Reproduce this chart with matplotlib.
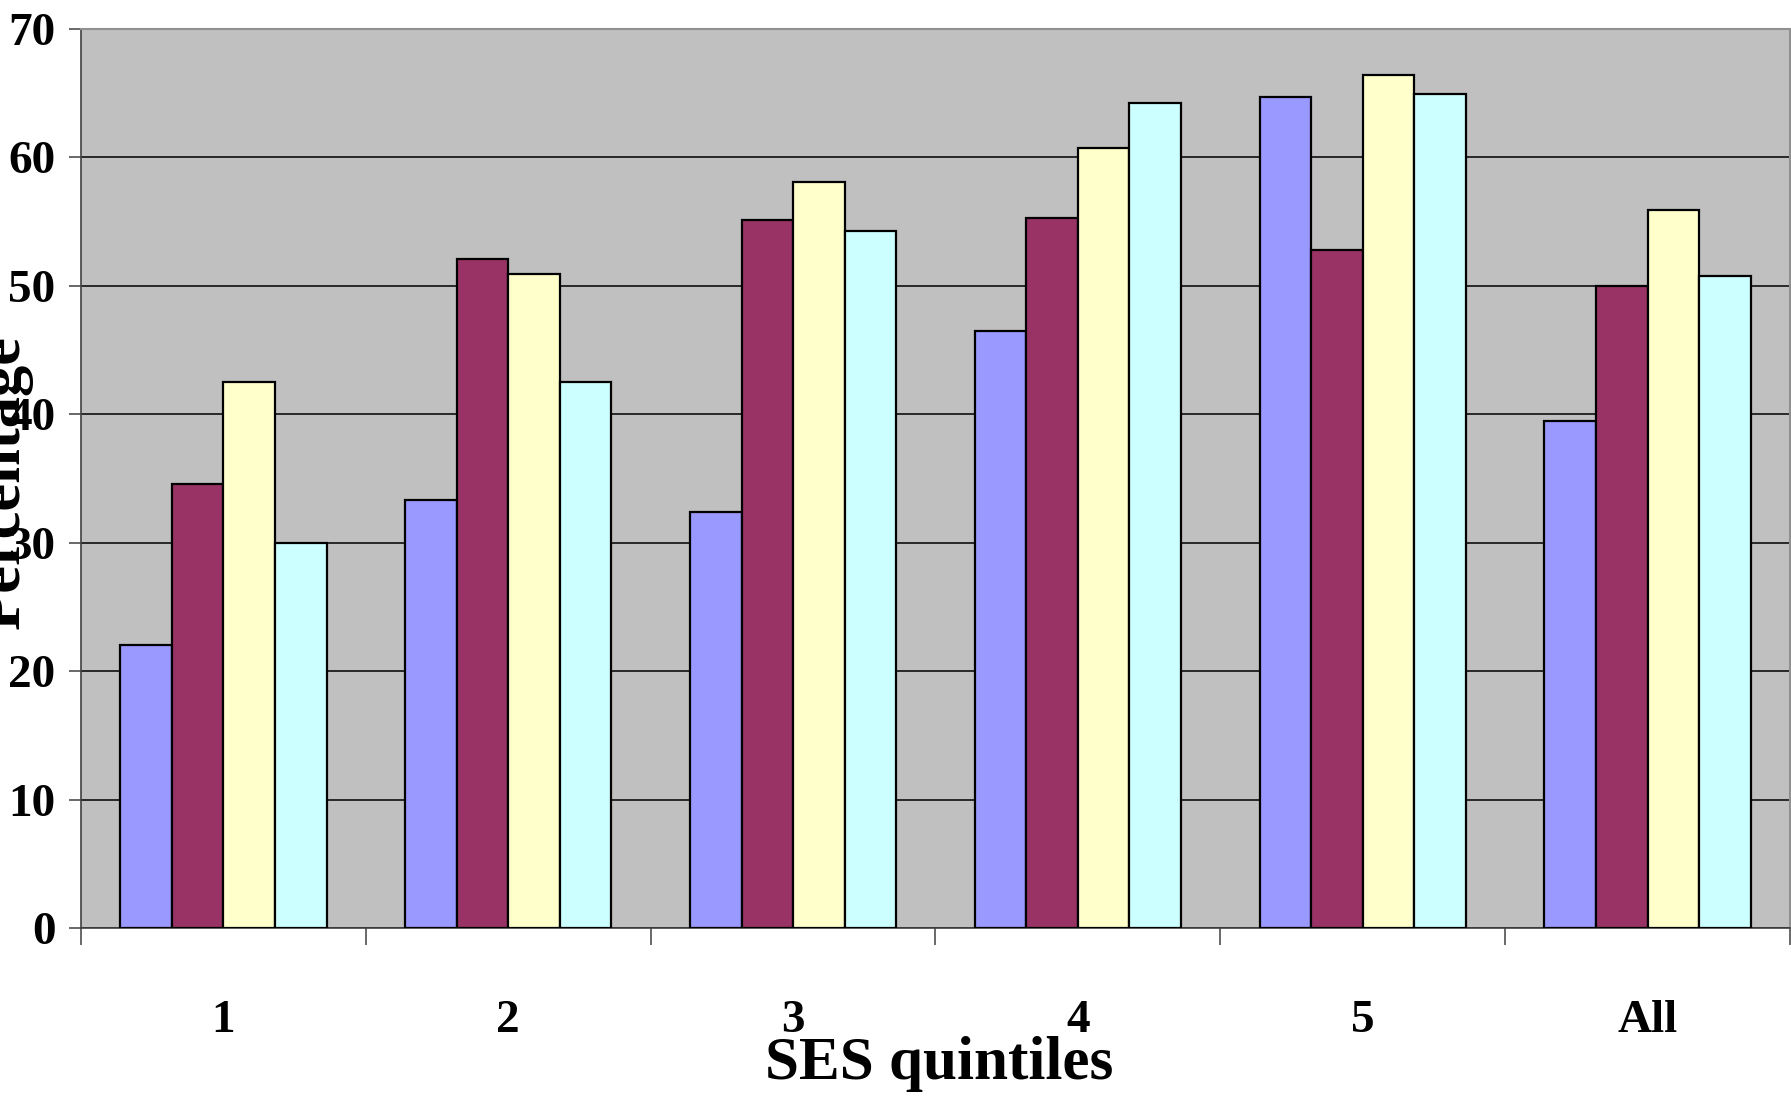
"""Barres groupées par quintile SES (style Excel)."""
import matplotlib
matplotlib.use("Agg")
import matplotlib.pyplot as plt
import numpy as np

groups = ["1", "2", "3", "4", "5", "All"]
series_a = [22.0, 33.3, 32.4, 46.5, 64.7, 39.5]
series_b = [34.6, 52.1, 55.1, 55.3, 52.8, 50.0]
series_c = [42.5, 50.9, 58.1, 60.7, 66.4, 55.9]
series_d = [30.0, 42.5, 54.3, 64.2, 64.9, 50.8]
colors = ["#9999FF", "#993366", "#FFFFCC", "#CCFFFF"]
yticks = [0, 10, 20, 30, 40, 50, 60, 70]

plt.rcParams["font.family"] = "Liberation Serif"
plt.rcParams["font.weight"] = "bold"

fig = plt.figure(figsize=(17.91, 10.97), dpi=100)
ax = fig.add_axes([81 / 1791, 1 - 928 / 1097, 1709 / 1791, 899 / 1097])
ax.set_facecolor("#C0C0C0")

x = np.arange(len(groups))
w = 0.181
for i, vals in enumerate([series_a, series_b, series_c, series_d]):
    ax.bar(x + (i - 1.5) * w, vals, w, color=colors[i], edgecolor="black",
           linewidth=1.6, zorder=3)

ax.set_xlim(-0.5, len(groups) - 0.5)
ax.set_ylim(0, 70)
ax.set_yticks(yticks)
ax.set_yticklabels([str(v) for v in yticks], fontsize=34, fontweight="bold")
ax.yaxis.grid(True, color="black", linewidth=1.1, zorder=1)
ax.set_axisbelow(True)

ax.set_xticks(x)
ax.set_xticklabels(groups, fontsize=34, fontweight="bold")
ax.set_xticks(np.arange(-0.5, len(groups)), minor=True)
ax.tick_params(axis="x", which="major", length=0, pad=52)
ax.tick_params(axis="x", which="minor", length=12, width=1.1,
               color="#404040", direction="out")
ax.tick_params(axis="y", length=8.5, width=1.1, color="#404040",
               direction="out", pad=10)

for side in ["left", "bottom"]:
    ax.spines[side].set_color("#404040")
    ax.spines[side].set_linewidth(1.2)
for side in ["top", "right"]:
    ax.spines[side].set_color("#909090")
    ax.spines[side].set_linewidth(1.5)

# titres d'axes placés à la main comme dans l'original
fig.text(939 / 1791, 1 - 1064 / 1097, "SES quintiles", fontsize=44,
         fontweight="bold", ha="center", va="center")
fig.text(33 / 1791, 1 - 482 / 1097, "Percentage", fontsize=45,
         fontweight="bold", rotation=90, ha="right", va="center")

fig.savefig("out.png", dpi=100, facecolor="white")
